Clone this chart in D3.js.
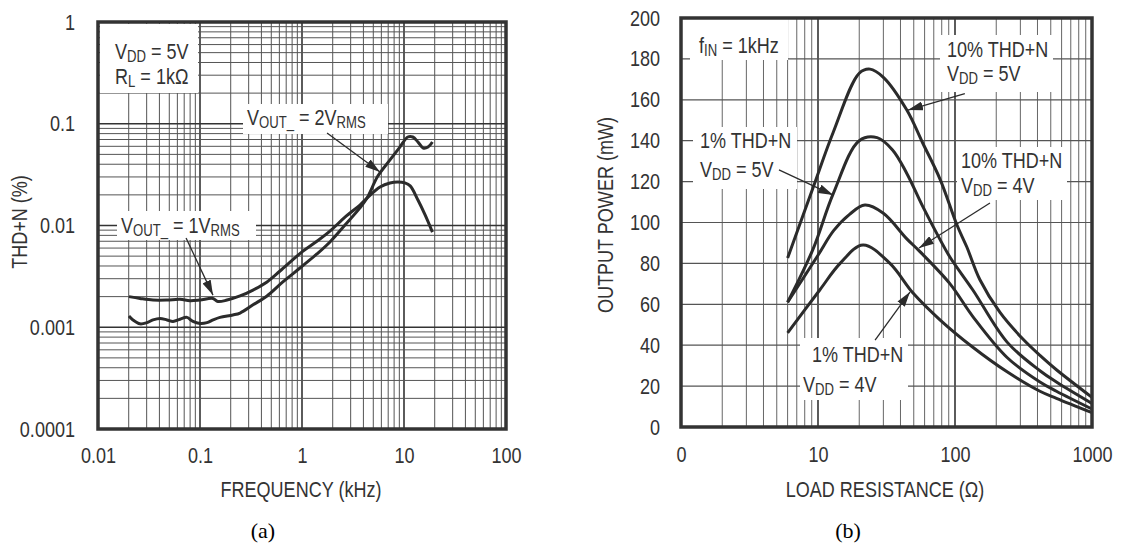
<!DOCTYPE html>
<html>
<head>
<meta charset="utf-8">
<script src="https://cdn.jsdelivr.net/npm/d3@7"></script>
<style>
  body { margin: 0; background: #fff; }
  svg text { font-family: "Liberation Sans", Arial, sans-serif; fill: #333; }
  /* the datasheet lettering is a narrow sans, squeeze it a bit */
  .nl, .nr, .nc { transform-box: fill-box; transform: scaleX(0.82); }
  .nl { transform-origin: left center; }
  .nr { transform-origin: right center; }
  .nc { transform-origin: center center; }
</style>
</head>
<body>
<script>
// ---- (a) THD+N vs frequency ----
const freq1V = [0.0201, 0.0258, 0.0346, 0.0475, 0.0637, 0.0798, 0.1, 0.134, 0.15, 0.184, 0.247, 0.331, 0.454, 0.609, 1.0, 1.40, 1.88, 2.64, 3.70, 4.34, 5.82, 7.29, 8.73, 10.2, 11.5, 13.7, 16.1, 19];
const thd1V = [0.0020, 0.00192, 0.00185, 0.00185, 0.00188, 0.00182, 0.00185, 0.00192, 0.00179, 0.00185, 0.00203, 0.00232, 0.00279, 0.00357, 0.0055, 0.0070, 0.0088, 0.0121, 0.0159, 0.0186, 0.0239, 0.0262, 0.0268, 0.0262, 0.0245, 0.0178, 0.0127, 0.0086];
const freq2V = [0.0201, 0.022, 0.0258, 0.0302, 0.0346, 0.0405, 0.0475, 0.0544, 0.0637, 0.0745, 0.0853, 0.1, 0.117, 0.134, 0.157, 0.21, 0.247, 0.331, 0.454, 0.649, 0.955, 1.40, 1.88, 2.64, 3.70, 4.34, 5.54, 7.29, 9.11, 10.9, 12.2, 13.7, 15.4, 17.2, 19];
const thd2V = [0.00129, 0.00118, 0.00108, 0.00111, 0.00118, 0.00122, 0.00118, 0.00114, 0.0012, 0.00125, 0.00114, 0.00109, 0.00111, 0.00118, 0.00125, 0.00132, 0.00138, 0.00166, 0.00203, 0.00279, 0.00382, 0.00525, 0.00689, 0.0101, 0.0149, 0.0186, 0.0306, 0.0441, 0.059, 0.0741, 0.0741, 0.0662, 0.0578, 0.059, 0.0662];
const freqTicks = [0.01, 0.1, 1, 10, 100];
const freqLabels = ["0.01", "0.1", "1", "10", "100"];
const thdTicks = [0.0001, 0.001, 0.01, 0.1, 1];
const thdLabels = ["0.0001", "0.001", "0.01", "0.1", "1"];

// ---- (b) output power vs load resistance ----
const load10pct5V = [6, 9.2, 12.9, 20, 24, 30, 44.5, 58, 78, 103, 122, 152, 213, 313, 417, 550, 1000];
const pow10pct5V = [82.6, 117, 144, 173, 175, 171, 155, 139, 121, 99, 88, 72, 56, 43, 35, 28, 14.5];
const load1pct5V = [6, 9.2, 12.9, 20, 27, 35, 44.5, 58, 78, 92, 135, 240, 417, 550, 1000];
const pow1pct5V = [61, 87, 114, 140, 141.5, 135.5, 124, 108, 91.5, 83, 67, 41.5, 27.5, 22, 11.5];
const load10pct4V = [6, 10, 13, 17, 22, 30, 44.5, 55, 92, 135, 240, 417, 550, 1000];
const pow10pct4V = [61, 84, 96, 104, 108.5, 104.5, 92, 86, 70, 54, 34, 22, 17.5, 8.8];
const load1pct4V = [6, 10.3, 14.5, 21.3, 33.5, 49.4, 78, 135, 240, 417, 550, 1000];
const pow1pct4V = [46, 67, 80, 89, 80, 65.5, 52.3, 39, 27, 17.5, 14, 7];
const loadTicks = [1, 10, 100, 1000];
const loadLabels = ["0", "10", "100", "1000"];
const powTicks = d3.range(0, 201, 20);

const width = 1122, height = 547;
const ink = "#2b2b2b";

const svg = d3.select("body").append("svg")
  .attr("width", width)
  .attr("height", height);

// arrow head
svg.append("defs").append("marker")
  .attr("id", "ah")
  .attr("viewBox", "0 0 15 9")
  .attr("refX", 15).attr("refY", 4.5)
  .attr("markerUnits", "userSpaceOnUse")
  .attr("markerWidth", 15).attr("markerHeight", 9)
  .attr("orient", "auto")
  .append("path").attr("d", "M0,0L15,4.5L0,9Z").attr("fill", ink);

// text with optional subscript pieces: [[text], [text, true], ...]
function rich(g, x, y, parts) {
  const t = g.append("text").attr("class", "nl")
    .attr("x", x).attr("y", y).attr("font-size", 22);
  let down = false;
  parts.forEach(p => {
    const s = t.append("tspan").text(p[0]);
    if (p[1]) { s.attr("font-size", 16).attr("dy", down ? 0 : 3); down = true; }
    else if (down) { s.attr("dy", -3); down = false; }
  });
  return t;
}

function box(g, x, y, w, h) {
  g.append("rect").attr("x", x).attr("y", y).attr("width", w).attr("height", h).attr("fill", "#fff");
}

function arrow(g, x1, y1, x2, y2) {
  g.append("line")
    .attr("x1", x1).attr("y1", y1).attr("x2", x2).attr("y2", y2)
    .attr("stroke", ink).attr("stroke-width", 1.3)
    .attr("marker-end", "url(#ah)");
}

function styleAxis(g, cls) {
  g.select(".domain").remove();
  g.attr("font-family", null).attr("font-size", 22);
  g.selectAll("text").attr("class", cls);
}

// ================= panel (a) =================
{
  const left = 98, right = 506, top = 22, bottom = 429;
  const x = d3.scaleLog([0.01, 100], [left, right]);
  const y = d3.scaleLog([0.0001, 1], [bottom, top]);
  const g = svg.append("g");
  const isDecade = v => Math.abs(Math.log10(v) - Math.round(Math.log10(v))) < 1e-6;

  g.append("g").selectAll("line").data(x.ticks()).join("line")
    .attr("x1", d => x(d)).attr("x2", d => x(d))
    .attr("y1", top).attr("y2", bottom)
    .attr("stroke", d => isDecade(d) ? "#333" : "#555")
    .attr("stroke-width", d => isDecade(d) ? 1.6 : 1);

  g.append("g").selectAll("line").data(y.ticks()).join("line")
    .attr("x1", left).attr("x2", right)
    .attr("y1", d => y(d)).attr("y2", d => y(d))
    .attr("stroke", d => isDecade(d) ? "#333" : "#555")
    .attr("stroke-width", d => isDecade(d) ? 1.6 : 1);

  // label boxes hide the grid
  box(g, 100, 24, 98, 69);
  box(g, 243, 104, 145, 30);
  box(g, 117, 211, 139, 29);

  const line = d3.line().x(d => x(d[0])).y(d => y(d[1])).curve(d3.curveCatmullRom.alpha(0.5));
  g.append("path").datum(d3.zip(freq1V, thd1V))
    .attr("d", line).attr("fill", "none").attr("stroke", ink).attr("stroke-width", 3);
  g.append("path").datum(d3.zip(freq2V, thd2V))
    .attr("d", line).attr("fill", "none").attr("stroke", ink).attr("stroke-width", 3);

  rich(g, 115, 59, [["V"], ["DD", true], [" = 5V"]]);
  rich(g, 115, 84, [["R"], ["L", true], [" = 1k\u03A9"]]);
  rich(g, 247, 125, [["V"], ["OUT_", true], [" = 2V"], ["RMS", true]]);
  rich(g, 121, 233, [["V"], ["OUT_", true], [" = 1V"], ["RMS", true]]);

  arrow(g, x(1.76), y(0.081), x(5.82), y(0.0336));
  arrow(g, x(0.073), y(0.00754), x(0.134), y(0.00207));

  g.append("g").attr("transform", `translate(${left},0)`)
    .call(d3.axisLeft(y).tickValues(thdTicks).tickFormat((d, i) => thdLabels[i]).tickSize(0).tickPadding(23))
    .call(a => styleAxis(a, "nr"));
  g.append("g").attr("transform", `translate(0,${bottom})`)
    .call(d3.axisBottom(x).tickValues(freqTicks).tickFormat((d, i) => freqLabels[i]).tickSize(0).tickPadding(18))
    .call(a => styleAxis(a, "nc"));

  g.append("rect").attr("x", left).attr("y", top)
    .attr("width", right - left).attr("height", bottom - top)
    .attr("fill", "none").attr("stroke", "#333").attr("stroke-width", 3.5);

  g.append("text").attr("class", "nc").attr("font-size", 22)
    .attr("x", (left + right) / 2 - 1).attr("y", 497).attr("text-anchor", "middle")
    .text("FREQUENCY (kHz)");
  g.append("g").attr("transform", "translate(27,222) rotate(-90)")
    .append("text").attr("class", "nc").attr("font-size", 22).attr("text-anchor", "middle")
    .text("THD+N (%)");
}

// ================= panel (b) =================
{
  const left = 681, right = 1092, top = 18, bottom = 427;
  const x = d3.scaleLog([1, 1000], [left, right]);
  const y = d3.scaleLinear([0, 200], [bottom, top]);
  const g = svg.append("g");
  const isDecade = v => Math.abs(Math.log10(v) - Math.round(Math.log10(v))) < 1e-6;

  g.append("g").selectAll("line").data(x.ticks()).join("line")
    .attr("x1", d => x(d)).attr("x2", d => x(d))
    .attr("y1", top).attr("y2", bottom)
    .attr("stroke", d => isDecade(d) ? "#333" : "#666")
    .attr("stroke-width", d => isDecade(d) ? 1.6 : 1);

  g.append("g").selectAll("line").data(powTicks).join("line")
    .attr("x1", left).attr("x2", right)
    .attr("y1", d => y(d)).attr("y2", d => y(d))
    .attr("stroke", "#555").attr("stroke-width", 1.2);

  box(g, 690, 19, 98, 41);
  box(g, 693, 127, 104, 62);
  box(g, 940, 35, 113, 57);
  box(g, 957, 147, 110, 53);
  box(g, 800, 338, 108, 62);

  const line = d3.line().x(d => x(d[0])).y(d => y(d[1])).curve(d3.curveCatmullRom.alpha(0.5));
  [[load10pct5V, pow10pct5V], [load1pct5V, pow1pct5V], [load10pct4V, pow10pct4V], [load1pct4V, pow1pct4V]]
    .forEach(([r, p]) => {
      g.append("path").datum(d3.zip(r, p))
        .attr("d", line).attr("fill", "none").attr("stroke", ink).attr("stroke-width", 3);
    });

  rich(g, 699, 53, [["f"], ["IN", true], [" = 1kHz"]]);
  rich(g, 700, 148, [["1% THD+N"]]);
  rich(g, 700, 177, [["V"], ["DD", true], [" = 5V"]]);
  rich(g, 947, 57, [["10% THD+N"]]);
  rich(g, 947, 81, [["V"], ["DD", true], [" = 5V"]]);
  rich(g, 961, 168, [["10% THD+N"]]);
  rich(g, 961, 193, [["V"], ["DD", true], [" = 4V"]]);
  rich(g, 812, 362, [["1% THD+N"]]);
  rich(g, 803, 392, [["V"], ["DD", true], [" = 4V"]]);

  arrow(g, x(118), y(163), x(45.4), y(155));
  arrow(g, x(180), y(109.5), x(54.6), y(87.5));
  arrow(g, x(5.19), y(125.7), x(12.9), y(113.4));
  arrow(g, x(26.1), y(42.5), x(46.9), y(66));

  g.append("g").attr("transform", `translate(${left},0)`)
    .call(d3.axisLeft(y).tickValues(powTicks).tickSize(0).tickPadding(21))
    .call(a => styleAxis(a, "nr"));
  g.append("g").attr("transform", `translate(0,${bottom})`)
    .call(d3.axisBottom(x).tickValues(loadTicks).tickFormat((d, i) => loadLabels[i]).tickSize(0).tickPadding(19))
    .call(a => styleAxis(a, "nc"));

  g.append("rect").attr("x", left).attr("y", top)
    .attr("width", right - left).attr("height", bottom - top)
    .attr("fill", "none").attr("stroke", "#333").attr("stroke-width", 3.5);

  g.append("text").attr("class", "nc").attr("font-size", 22)
    .attr("x", 885).attr("y", 497).attr("text-anchor", "middle")
    .text("LOAD RESISTANCE (\u03A9)");
  g.append("g").attr("transform", "translate(613,215) rotate(-90)")
    .append("text").attr("class", "nc").attr("font-size", 22).attr("text-anchor", "middle")
    .text("OUTPUT POWER (mW)");
}

// captions
svg.append("text").attr("x", 263).attr("y", 538).attr("text-anchor", "middle")
  .style("font-family", "'Liberation Serif', serif").style("fill", "#000").attr("font-size", 22).text("(a)");
svg.append("text").attr("x", 848).attr("y", 538).attr("text-anchor", "middle")
  .style("font-family", "'Liberation Serif', serif").style("fill", "#000").attr("font-size", 22).text("(b)");
</script>
</body>
</html>
